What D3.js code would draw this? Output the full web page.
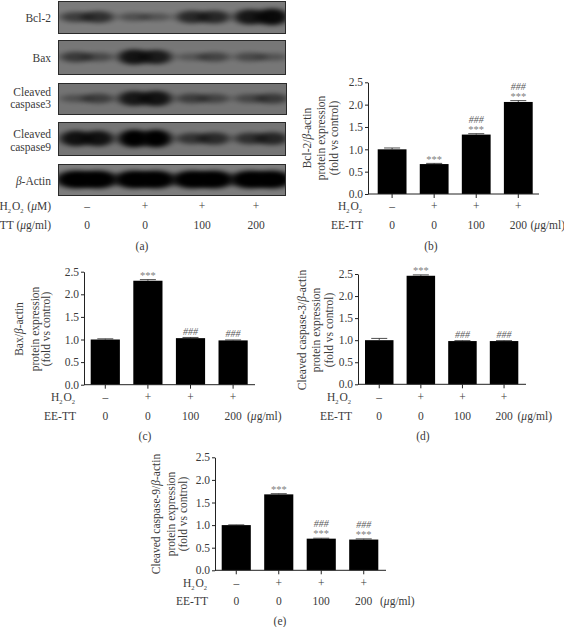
<!DOCTYPE html>
<html>
<head>
<meta charset="utf-8">
<script src="https://cdn.jsdelivr.net/npm/d3@7"></script>
<style>
  html, body { margin: 0; padding: 0; background: #fff; }
  svg { display: block; }
  text { font-family: "Liberation Serif", serif; fill: #3a3a3a; font-size: 11.5px; }
  .domain, .tick line { stroke: #222; }
</style>
</head>
<body>
<div id="chart"></div>
<script>
// bar chart data
const doses = ['0', '0', '100', '200'];
const h2o2 = ['–', '+', '+', '+'];
const groups = ['control', 'h2o2', 'tt100', 'tt200'];
const yTicks = [0, 0.5, 1, 1.5, 2, 2.5];

const bcl2Values = [1.0, 0.67, 1.33, 2.06];
const bcl2Errors = [0.03, 0.015, 0.02, 0.03];
const bcl2Stars = ['', '***', '***', '***'];
const bcl2Hash = ['', '', '###', '###'];

const baxValues = [1.0, 2.3, 1.03, 0.98];
const baxErrors = [0.015, 0.025, 0.015, 0.01];
const baxStars = ['', '***', '', ''];
const baxHash = ['', '', '###', '###'];

const casp3Values = [1.0, 2.46, 0.98, 0.98];
const casp3Errors = [0.04, 0.02, 0.01, 0.01];
const casp3Stars = ['', '***', '', ''];
const casp3Hash = ['', '', '###', '###'];

const casp9Values = [1.0, 1.68, 0.7, 0.68];
const casp9Errors = [0.005, 0.015, 0.01, 0.015];
const casp9Stars = ['', '***', '***', '***'];
const casp9Hash = ['', '', '###', '###'];

// blot band strength, [left lobe, right lobe] per lane
const blotNames = ['bcl2', 'bax', 'casp3', 'casp9', 'actin'];
const bcl2Bands = [[0.38, 0.52], [0.2, 0.16], [0.58, 0.6], [0.78, 0.9]];
const baxBands = [[0.4, 0.25], [0.8, 0.72], [0.12, 0.3], [0.24, 0.14]];
const casp3Bands = [[0.15, 0.35], [0.75, 0.8], [0.35, 0.28], [0.25, 0.38]];
const casp9Bands = [[0.82, 0.82], [1, 1], [0.45, 0.55], [0.5, 0.6]];
const actinBands = [[1, 1], [1, 1], [1, 1], [1, 1]];
const blotBands = [bcl2Bands, baxBands, casp3Bands, casp9Bands, actinBands];

const width = 564;
const height = 627;

const svg = d3.select('#chart').append('svg')
  .attr('width', width)
  .attr('height', height)
  .attr('viewBox', `0 0 ${width} ${height}`);

const defs = svg.append('defs');
defs.append('filter').attr('id', 'bandBlur')
  .attr('x', '-40%').attr('y', '-80%').attr('width', '180%').attr('height', '260%')
  .append('feGaussianBlur').attr('stdDeviation', '4 2.2');

// text with italic parts and subscripts: [string, 'i' | 'sub']
function richText(sel, parts) {
  parts.forEach(p => {
    const str = Array.isArray(p) ? p[0] : p;
    const kind = Array.isArray(p) ? p[1] : null;
    const t = sel.append('tspan').text(str);
    if (kind === 'i') t.style('font-style', 'italic');
    if (kind === 'sub') {
      t.attr('dy', 3).style('font-size', '6.5px');
      sel.append('tspan').attr('dy', -3).text('\u200a');
    }
  });
}

const h2o2Parts = ['H', ['2', 'sub'], 'O', ['2', 'sub']];

// ---- panel (a)
const blotBox = {
  bcl2: { y: 1, h: 33, x1: 286 },
  bax: { y: 40, h: 35, x1: 286 },
  casp3: { y: 83, h: 32, x1: 287 },
  casp9: { y: 122, h: 34, x1: 286 },
  actin: { y: 164, h: 32, x1: 286 }
};
const blotBg = { bcl2: '#7b7b7b', bax: '#777777', casp3: '#737373', casp9: '#757575', actin: '#7d7d7d' };
const laneX = d3.scalePoint().domain(groups).range([87, 261]);
const lobeGap = 11;
const bandRy = d3.scaleLinear().domain([0, 1]).range([3, 9]);
const bandAlpha = d3.scaleLinear().domain([0, 1]).range([0.2, 1]);

const blots = svg.append('g').attr('id', 'blots');
blotNames.forEach((name, i) => {
  const box = blotBox[name];
  const clipId = `clip-${name}`;
  defs.append('clipPath').attr('id', clipId)
    .append('rect').attr('x', 58).attr('y', box.y).attr('width', box.x1 - 58).attr('height', box.h);

  const g = blots.append('g').attr('clip-path', `url(#${clipId})`);
  g.append('rect')
    .attr('x', 58).attr('y', box.y).attr('width', box.x1 - 58).attr('height', box.h)
    .attr('fill', blotBg[name]);

  const lobes = blotBands[i].flatMap((b, lane) => [
    { lane: groups[lane], off: -lobeGap, v: b[0] },
    { lane: groups[lane], off: lobeGap, v: b[1] }
  ]);
  g.selectAll('ellipse')
    .data(lobes)
    .join('ellipse')
    .attr('cx', d => laneX(d.lane) + d.off)
    .attr('cy', box.y + box.h / 2 - 0.5)
    .attr('rx', name === 'actin' ? 20 : 16)
    .attr('ry', d => bandRy(d.v))
    .attr('fill', '#000')
    .attr('fill-opacity', d => bandAlpha(d.v))
    .attr('filter', 'url(#bandBlur)');

  blots.append('rect')
    .attr('x', 58.5).attr('y', box.y + 0.5).attr('width', box.x1 - 59).attr('height', box.h - 1)
    .attr('fill', 'none').attr('stroke', '#2a2a2a').attr('stroke-width', 1);
});

const blotLabels = [
  { y: 22, parts: ['Bcl-2'] },
  { y: 62, parts: ['Bax'] },
  { y: 96, parts: ['Cleaved'] },
  { y: 108, parts: ['caspase3'] },
  { y: 138, parts: ['Cleaved'] },
  { y: 151, parts: ['caspase9'] },
  { y: 185, parts: [['β', 'i'], '-Actin'] },
  { y: 210, parts: [...h2o2Parts, ' (', ['μ', 'i'], 'M)'] },
  { y: 229, parts: ['TT (', ['μ', 'i'], 'g/ml)'] }
];
blotLabels.forEach(d => {
  svg.append('text').attr('x', 51).attr('y', d.y).attr('text-anchor', 'end').call(richText, d.parts);
});

const laneLabelX = d3.scaleOrdinal().domain(groups).range([87, 145, 202, 256]);
groups.forEach((g, i) => {
  svg.append('text').attr('x', laneLabelX(g)).attr('y', 210).attr('text-anchor', 'middle').text(h2o2[i]);
  svg.append('text').attr('x', laneLabelX(g)).attr('y', 229).attr('text-anchor', 'middle').text(doses[i]);
});

// ---- bar panels
function barPanel(p) {
  const x = d3.scaleBand().domain(groups).range(p.bars).paddingInner(0.315).paddingOuter(0);
  const y = d3.scaleLinear().domain([0, 2.5]).range([p.y0, p.y1]);
  const g = svg.append('g').attr('class', 'panel');

  // bars
  g.selectAll('rect.bar')
    .data(groups)
    .join('rect')
    .attr('class', 'bar')
    .attr('x', d => x(d))
    .attr('width', x.bandwidth())
    .attr('y', (d, i) => y(p.values[i]))
    .attr('height', (d, i) => p.y0 - y(p.values[i]))
    .attr('fill', '#000');

  // error bars
  groups.forEach((d, i) => {
    const cx = x(d) + x.bandwidth() / 2;
    const top = y(p.values[i] + p.errors[i]);
    g.append('path')
      .attr('d', `M${cx},${y(p.values[i])}V${top}M${cx - 8},${top}H${cx + 8}`)
      .attr('stroke', '#222').attr('fill', 'none').attr('stroke-width', 0.8);
  });

  // axes
  const yAxis = g.append('g')
    .attr('transform', `translate(${p.axisX},0)`)
    .call(d3.axisLeft(y).tickValues(yTicks).tickFormat(d3.format('.1f')).tickSize(3).tickSizeOuter(0));
  yAxis.selectAll('text').style('font-size', '11.5px').attr('x', -5);

  const xAxis = g.append('g')
    .attr('transform', `translate(0,${p.y0})`)
    .call(d3.axisBottom(x).tickFormat('').tickSize(4).tickSizeOuter(0));
  xAxis.select('.domain').attr('d', `M${p.axisX},0H${p.axisEnd}`);

  // significance marks
  groups.forEach((d, i) => {
    const cx = x(d) + x.bandwidth() / 2;
    const top = y(p.values[i]);
    if (p.stars[i]) {
      g.append('text').attr('x', cx).attr('y', top - 1.5)
        .attr('text-anchor', 'middle').style('fill', '#808080').style('font-size', '10.5px')
        .text(p.stars[i]);
    }
    if (p.hash[i]) {
      g.append('text').attr('x', cx).attr('y', p.stars[i] ? top - 12 : top - 3.5)
        .attr('text-anchor', 'middle').style('fill', '#5a5a5a').style('font-size', '10px')
        .style('font-style', 'italic').text(p.hash[i]);
    }
    // row labels
    g.append('text').attr('x', cx).attr('y', p.row1).attr('text-anchor', 'middle').text(h2o2[i]);
    g.append('text').attr('x', cx).attr('y', p.row2).attr('text-anchor', 'middle').text(doses[i]);
  });

  g.append('text').attr('x', p.labelX).attr('y', p.row1).attr('text-anchor', 'end').call(richText, h2o2Parts);
  g.append('text').attr('x', p.labelX).attr('y', p.row2).attr('text-anchor', 'end').text('EE-TT');
  g.append('text').attr('x', p.unitX).attr('y', p.row2).call(richText, ['(', ['μ', 'i'], 'g/ml)']);

  // rotated y title
  p.title.forEach((parts, i) => {
    g.append('text')
      .attr('transform', `translate(${p.titleX[i]},${p.titleY}) rotate(-90)`)
      .attr('text-anchor', 'middle')
      .call(richText, parts);
  });

  g.append('text').attr('x', p.capX).attr('y', p.capY).attr('text-anchor', 'middle').text(p.cap);
}

const titleTail = [['protein expression'], ['(fold vs control)']];

barPanel({
  values: bcl2Values, errors: bcl2Errors, stars: bcl2Stars, hash: bcl2Hash,
  bars: [377.7, 532.7], y0: 194, y1: 82.3, axisX: 368, axisEnd: 539,
  row1: 210, row2: 229, labelX: 363, unitX: 530.5,
  title: [['Bcl-2/', ['β', 'i'], '-actin'], ...titleTail], titleX: [311, 325, 338], titleY: 138,
  cap: '(b)', capX: 431, capY: 250
});
barPanel({
  values: baxValues, errors: baxErrors, stars: baxStars, hash: baxHash,
  bars: [90.7, 247.7], y0: 384.7, y1: 271.7, axisX: 84, axisEnd: 255,
  row1: 401, row2: 420, labelX: 76, unitX: 247,
  title: [['Bax/', ['β', 'i'], '-actin'], ...titleTail], titleX: [23, 39, 50], titleY: 329,
  cap: '(c)', capX: 145, capY: 440
});
barPanel({
  values: casp3Values, errors: casp3Errors, stars: casp3Stars, hash: casp3Hash,
  bars: [365, 518.3], y0: 384.3, y1: 274, axisX: 358, axisEnd: 526,
  row1: 401, row2: 420, labelX: 352, unitX: 517.5,
  title: [['Cleaved caspase-3/', ['β', 'i'], '-actin'], ...titleTail], titleX: [306, 320, 333], titleY: 330,
  cap: '(d)', capX: 423, capY: 440
});
barPanel({
  values: casp9Values, errors: casp9Errors, stars: casp9Stars, hash: casp9Hash,
  bars: [221.7, 378.3], y0: 570.3, y1: 457.3, axisX: 215, axisEnd: 386,
  row1: 587, row2: 605, labelX: 208, unitX: 380,
  title: [['Cleaved caspase-9/', ['β', 'i'], '-actin'], ...titleTail], titleX: [160, 175, 187], titleY: 514,
  cap: '(e)', capX: 280, capY: 625
});

svg.append('text').attr('x', 142).attr('y', 250).attr('text-anchor', 'middle').text('(a)');
</script>
</body>
</html>
